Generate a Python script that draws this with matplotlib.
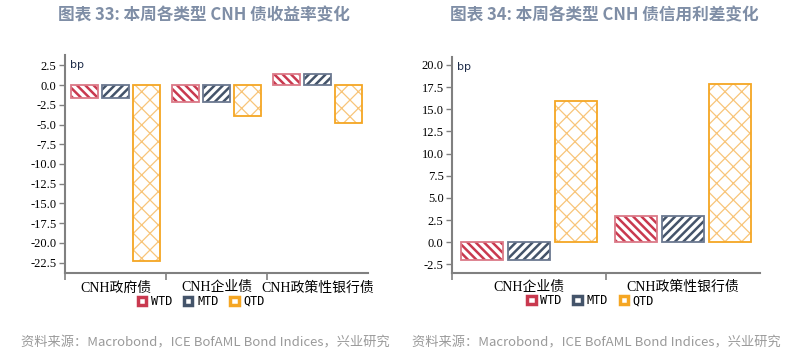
import numpy as np
import matplotlib
matplotlib.use("Agg")
import matplotlib.pyplot as plt
from matplotlib.patches import Patch

# data
series = ["WTD", "MTD", "QTD"]
cats_left = ["CNH政府债", "CNH企业债", "CNH政策性银行债"]
wtd_left = [-1.6, -2.1, 1.4]
mtd_left = [-1.6, -2.1, 1.4]
qtd_left = [-22.3, -3.9, -4.8]
yticks_left = np.arange(-22.5, 2.6, 2.5)

cats_right = ["CNH企业债", "CNH政策性银行债"]
wtd_right = [-2.0, 3.0]
mtd_right = [-2.0, 3.0]
qtd_right = [15.9, 17.9]
yticks_right = np.arange(-2.5, 20.1, 2.5)

title_left = "图表 33: 本周各类型 CNH 债收益率变化"
title_right = "图表 34: 本周各类型 CNH 债信用利差变化"
source = "资料来源：Macrobond，ICE BofAML Bond Indices，兴业研究"

colors = ["#C9394F", "#44546A", "#F5A623"]
hatch_colors = ["#C9394F", "#44546A", "#F8C57A"]
edge_colors = ["#DB7A88", "#6B7890", "#F5A623"]
hatches = ["\\\\\\\\", "////", "xx"]
hatch_lw = [1.8, 1.8, 0.9]
serif = ["Liberation Serif", "Noto Sans CJK SC"]
grey = "#808080"

fig = plt.figure(figsize=(8.07, 3.56), dpi=100)
ax1 = fig.add_axes([65/807, 1-273/356, 303/807, 218/356])
ax2 = fig.add_axes([452/807, 1-272.7/356, 308/807, 215.7/356])


def draw(ax, cats, vals, yticks, ylim):
    x = np.arange(len(cats))
    w = 0.27
    offs = [-0.305, 0, 0.305]
    for i, v in enumerate(vals):
        # hatch layer, then outline on top
        with plt.rc_context({"hatch.linewidth": hatch_lw[i]}):
            ax.bar(x + offs[i], v, w, facecolor="white", edgecolor=hatch_colors[i],
                   hatch=hatches[i], linewidth=0)
        ax.bar(x + offs[i], v, w, facecolor="none", edgecolor=edge_colors[i],
               linewidth=1.3)
    ax.set_xlim(-0.5, len(cats) - 0.5)
    ax.set_ylim(*ylim)
    ax.set_yticks(yticks)
    ax.set_yticklabels([f"{t:.1f}" for t in yticks], family=serif, fontsize=9)
    ax.set_xticks(x)
    ax.set_xticklabels(cats, family=serif, fontsize=10)
    ax.set_xticks(np.arange(len(cats)) - 0.5, minor=True)
    ax.tick_params(axis="x", which="major", length=0, pad=6)
    ax.tick_params(axis="x", which="minor", length=5, width=1.2, color=grey)
    ax.tick_params(axis="y", length=4, width=1, color=grey, pad=2)
    for s in ["top", "right"]:
        ax.spines[s].set_visible(False)
    for s in ["left", "bottom"]:
        ax.spines[s].set_color(grey)
        ax.spines[s].set_linewidth(1.5)
    ax.text(0.017, 0.955, "bp", transform=ax.transAxes, fontsize=8,
            va="center", ha="left", color="#1F2D4A")
    handles = [Patch(facecolor="white", edgecolor=colors[i], linewidth=2.5,
                     label=series[i]) for i in range(3)]
    ax.legend(handles=handles, loc="center", bbox_to_anchor=(0.45, -0.13),
              ncol=3, frameon=False, handlelength=0.7, handleheight=0.7,
              handletextpad=0.4, columnspacing=1.0,
              prop={"family": "DejaVu Sans Mono", "size": 8.5})


draw(ax1, cats_left, [wtd_left, mtd_left, qtd_left], yticks_left, (-23.8, 3.8))
draw(ax2, cats_right, [wtd_right, mtd_right, qtd_right], yticks_right, (-3.43, 20.9))

tfont = dict(family="Noto Sans CJK SC", fontsize=12, fontweight="bold",
             color="#7F8EA6", ha="center", va="center")
fig.text(204/807, 1-15/356, title_left, **tfont)
fig.text(604/807, 1-15/356, title_right, **tfont)

sfont = dict(family="Noto Sans CJK SC", fontsize=9.5, color="#9A9A9A",
             ha="right", va="center")
fig.text(390/807, 1-343/356, source, **sfont)
fig.text(781/807, 1-343/356, source, **sfont)

fig.savefig("out.png", dpi=100)
